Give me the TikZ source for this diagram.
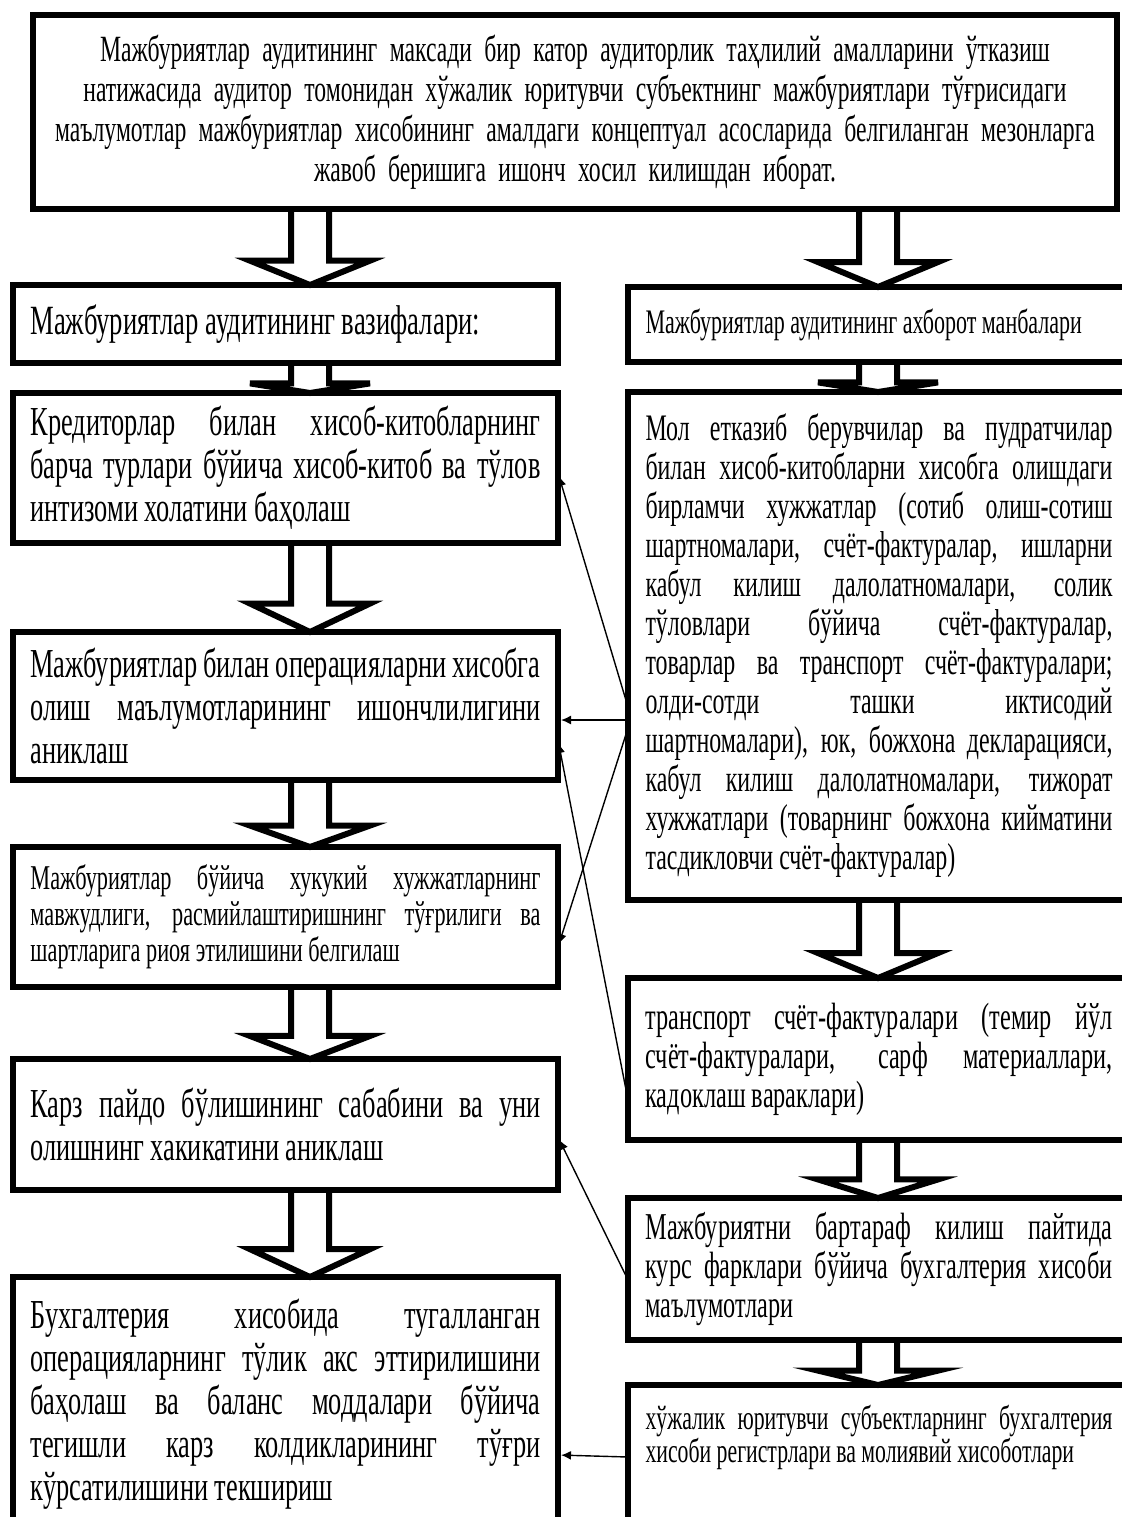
\documentclass[tikz,border=0pt]{standalone}
\usepackage{fontspec}
\setmainfont{Liberation Serif}[FakeStretch=0.64]
\usetikzlibrary{arrows.meta,calc}
\tolerance=10000
\hyphenpenalty=10000
\exhyphenpenalty=10000

\newcommand{\fsize}[2]{\fontsize{#1}{#2}\selectfont}
% hollow block arrow: #1 start on the upper box, #2 tip on the lower box
\newcommand{\dblarrow}[2]{%
  \draw[dbl] let \p1=(#1), \p2=(#2), \n1={0.32*(\y1-\y2)} in
    (\x1-9.5pt,\y1) -- (\x2-9.5pt,\y2+\n1*1pt) -- (\x2-30pt,\y2+\n1*1pt) -- (\x2,\y2)
    -- (\x2+30pt,\y2+\n1*1pt) -- (\x2+9.5pt,\y2+\n1*1pt) -- (\x1+9.5pt,\y1);}

\tikzset{
  box/.style={draw, line width=3pt, anchor=north west, outer sep=0pt, inner xsep=8.75pt, align=justify},
  lbox/.style={box, text width=255pt, font=\fsize{20.6pt}{21.5pt}},
  rbox/.style={box, text width=233.5pt, font=\fsize{19pt}{19.5pt}},
  dbl/.style={line width=3pt},
  link/.style={line width=0.7pt, -{Latex[length=5pt,width=4.5pt]}, shorten >=1.5pt}
}

\begin{document}
\begin{tikzpicture}[x=0.5pt,y=-0.5pt]
\path[use as bounding box, fill=white] (0,0) rectangle (1122,1517);

\node[box, text width=530pt, inner xsep=6pt, minimum height=97pt, align=center,
  font=\fsize{18.5pt}{20pt}] (goal) at (33,15)
  {Мажбуриятлар аудитининг максади бир катор аудиторлик таҳлилий амалларини ўтказиш\\
   натижасида аудитор томонидан хўжалик юритувчи субъектнинг мажбуриятлари тўғрисидаги\\
   маълумотлар мажбуриятлар хисобининг амалдаги концептуал асосларида белгиланган мезонларга\\
   жавоб беришига ишонч хосил килишдан иборат.};

% left column
\node[lbox, minimum height=39pt, font=\fsize{20.8pt}{22pt}] (tasks) at (13,285)
  {Мажбуриятлар аудитининг вазифалари:};
\node[lbox, minimum height=75pt] (t1) at (13,393)
  {Кредиторлар билан хисоб-китобларнинг\linebreak
   барча турлари бўйича хисоб-китоб ва тўлов\linebreak
   интизоми холатини баҳолаш};
\node[lbox, minimum height=74pt] (t2) at (13,632)
  {Мажбуриятлар билан операцияларни хисобга\linebreak
   олиш маълумотларининг ишончлилигини\linebreak
   аниклаш};
\node[lbox, minimum height=70pt, font=\fsize{17.4pt}{18pt}] (t3) at (13,847)
  {Мажбуриятлар бўйича хукукий хужжатларнинг\linebreak
   мавжудлиги, расмийлаштиришнинг тўғрилиги ва\linebreak
   шартларига риоя этилишини белгилаш};
\node[lbox, minimum height=65.5pt] (t4) at (13,1059)
  {Карз пайдо бўлишининг сабабини ва уни\linebreak
   олишнинг хакикатини аниклаш};
\node[lbox, minimum height=127pt] (t5) at (13,1277)
  {Бухгалтерия хисобида тугалланган\linebreak
   операцияларнинг тўлик акс эттирилишини\linebreak
   баҳолаш ва баланс моддалари бўйича\linebreak
   тегишли карз колдикларининг тўғри\linebreak
   кўрсатилишини текшириш};

% right column
\node[rbox, minimum height=37.5pt, font=\fsize{17.2pt}{18pt}] (sources) at (628,287)
  {Мажбуриятлар аудитининг ахборот манбалари};
\node[rbox, minimum height=254pt, font=\fsize{18.7pt}{19.5pt}] (s1) at (628,392)
  {Мол етказиб берувчилар ва пудратчилар\linebreak
   билан хисоб-китобларни хисобга олишдаги\linebreak
   бирламчи хужжатлар (сотиб олиш-сотиш\linebreak
   шартномалари, счёт-фактуралар, ишларни\linebreak
   кабул килиш далолатномалари, солик\linebreak
   тўловлари бўйича счёт-фактуралар,\linebreak
   товарлар ва транспорт счёт-фактуралари;\linebreak
   олди-сотди ташки иктисодий\linebreak
   шартномалари), юк, божхона декларацияси,\linebreak
   кабул килиш далолатномалари, тижорат\linebreak
   хужжатлари (товарнинг божхона кийматини\linebreak
   тасдикловчи счёт-фактуралар)};
\node[rbox, minimum height=81pt] (s2) at (628,978)
  {транспорт счёт-фактуралари (темир йўл\linebreak
   счёт-фактуралари, сарф материаллари,\linebreak
   кадоклаш вараклари)};
\node[rbox, minimum height=71pt] (s3) at (628,1198)
  {Мажбуриятни бартараф килиш пайтида\linebreak
   курс фарклари бўйича бухгалтерия хисоби\linebreak
   маълумотлари};
\node[rbox, inner ysep=10pt, font=\fsize{17pt}{16.5pt}] (s4) at (628,1385)
  {хўжалик юритувчи субъектларнинг бухгалтерия\linebreak
   хисоби регистрлари ва молиявий хисоботлари\par\rule{0pt}{70pt}};

% block arrows
\coordinate (lcol) at (310,0);
\coordinate (rcol) at (878,0);
\dblarrow{goal.south -| lcol}{tasks.north -| lcol}
\dblarrow{goal.south -| rcol}{sources.north -| rcol}
\dblarrow{tasks.south -| lcol}{t1.north -| lcol}
\dblarrow{t1.south -| lcol}{t2.north -| lcol}
\dblarrow{t2.south -| lcol}{t3.north -| lcol}
\dblarrow{t3.south -| lcol}{t4.north -| lcol}
\dblarrow{t4.south -| lcol}{t5.north -| lcol}
\dblarrow{sources.south -| rcol}{s1.north -| rcol}
\dblarrow{s1.south -| rcol}{s2.north -| rcol}
\dblarrow{s2.south -| rcol}{s3.north -| rcol}
\dblarrow{s3.south -| rcol}{s4.north -| rcol}

% thin links from the sources to the tasks
\draw[link] (s1.west |- 0,707) -- (t1.east |- 0,473);
\draw[link] (s1.west |- 0,720) -- (t2.east |- 0,720);
\draw[link] (s1.west |- 0,728) -- (t3.east |- 0,947);
\draw[link] (s2.west |- 0,1100) -- (t2.east |- 0,740);
\draw[link] (s3.west |- 0,1280) -- (t4.east |- 0,1137);
\draw[link] (s4.west |- 0,1457) -- (t5.east |- 0,1455);
\end{tikzpicture}
\end{document}
